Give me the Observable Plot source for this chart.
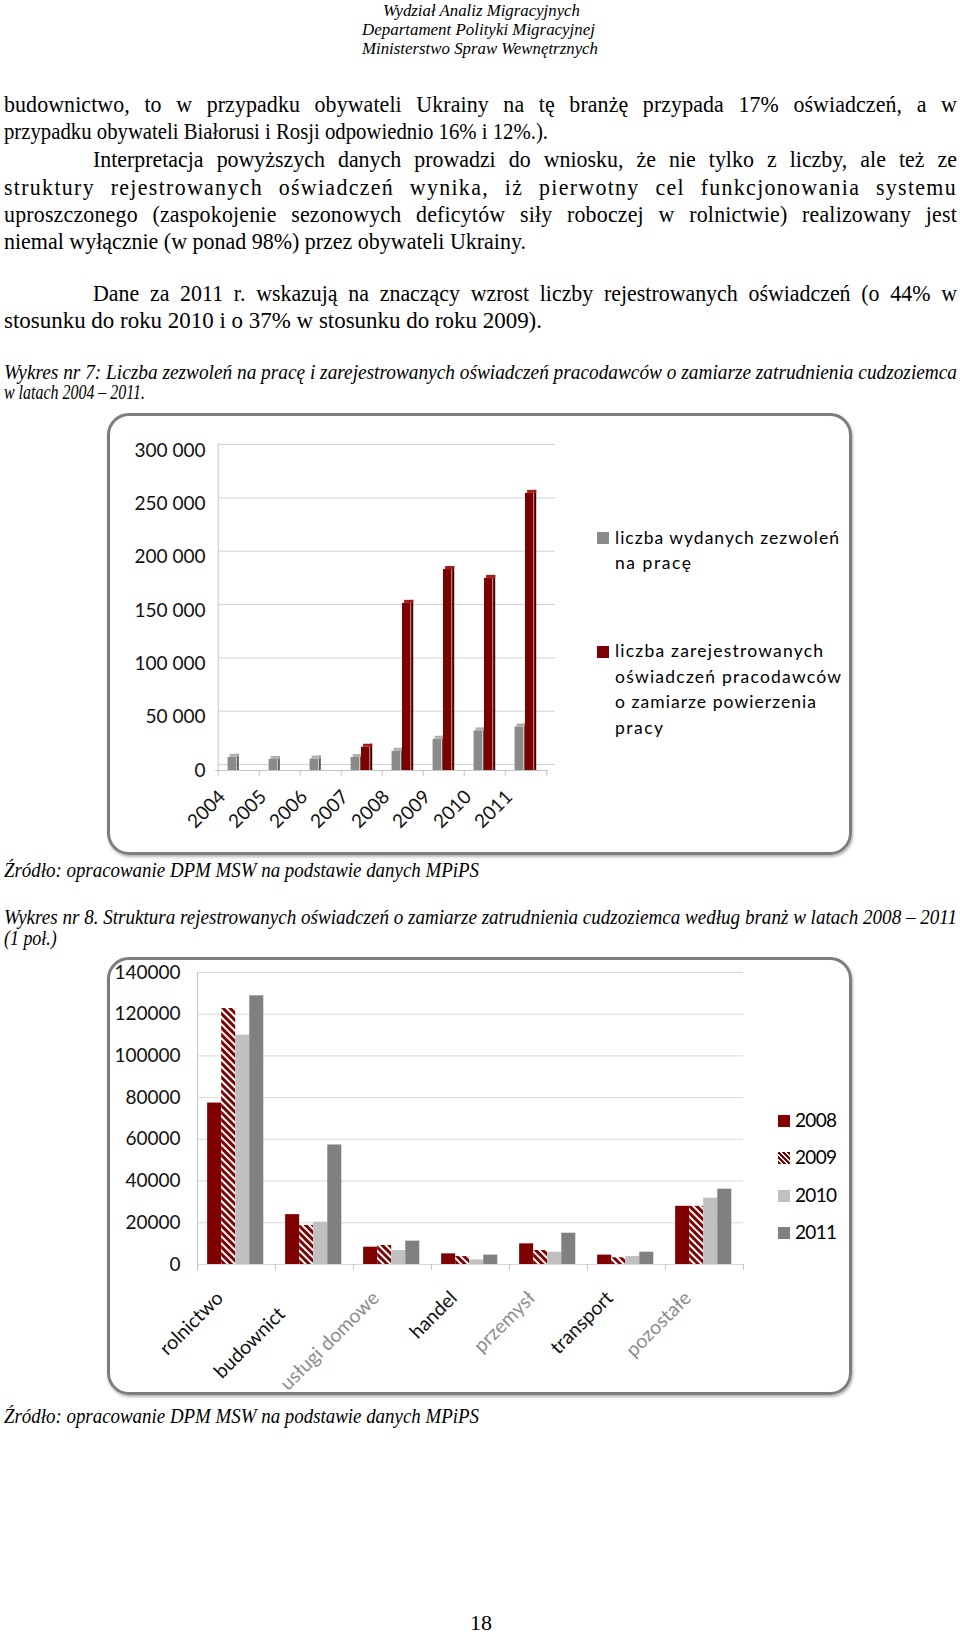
<!DOCTYPE html>
<html lang="pl"><head><meta charset="utf-8">
<script src="https://cdn.jsdelivr.net/npm/d3@7"></script>
<script src="https://cdn.jsdelivr.net/npm/@observablehq/plot@0.6"></script>
<style>
html,body{margin:0;padding:0;background:#fff;}
body{position:relative;width:960px;height:1634px;overflow:hidden;}
.ln{position:absolute;white-space:nowrap;transform-origin:0 0;color:#000;font-family:"Liberation Serif","Times New Roman",serif;}
.frame{position:absolute;box-sizing:border-box;border:3px solid #7d7d7d;border-radius:22px;box-shadow:1px 2px 3px rgba(0,0,0,.3);pointer-events:none;}
.lg{position:absolute;font-family:Lato,"DejaVu Sans",sans-serif;white-space:nowrap;color:#000;line-height:20px;}
.sw{position:absolute;width:12px;height:12px;}
</style></head>
<body>
<script>
// ---------------- DATA ----------------
// Chart 1 (Wykres nr 7)
const years1 = ["2004","2005","2006","2007","2008","2009","2010","2011"];
const permits1 = [12400,10300,10800,12200,18000,29300,37100,40800];
const declarations1 = [null,null,null,21800,156700,188400,180100,259800];
const yTicks1 = [0,50000,100000,150000,200000,250000,300000];
const legend1Permits = ["liczba wydanych zezwoleń","na pracę"];
const legend1Decl = ["liczba zarejestrowanych","oświadczeń pracodawców","o zamiarze powierzenia","pracy"];

// Chart 2 (Wykres nr 8)
const sectors2 = ["rolnictwo","budownictwo","usługi domowe","handel","przemysł","transport","pozostałe"];
const sectorLabels2 = ["rolnictwo","budownict\u2007\u2007","usługi domowe","handel","przemysł","transport","pozostałe"];
const fadedLabels2 = ["usługi domowe","przemysł","pozostałe"];
const years2 = ["2008","2009","2010","2011"];
const v2008 = [77400,23900,8300,5100,9900,4500,27900];
const v2009 = [122700,18700,9100,3800,6700,3200,27900];
const v2010 = [110000,20300,6700,2200,5900,3800,31800];
const v2011 = [128800,57300,11200,4500,15000,5900,36100];
const values2 = [v2008, v2009, v2010, v2011];
const yTicks2 = [0,20000,40000,60000,80000,100000,120000,140000];

// Page texts
const headerLines = ["Wydział Analiz Migracyjnych","Departament Polityki Migracyjnej","Ministerstwo Spraw Wewnętrznych"];
const bodyLines = [
 "budownictwo, to w przypadku obywateli Ukrainy na tę branżę przypada 17% oświadczeń, a w",
 "przypadku obywateli Białorusi i Rosji odpowiednio 16% i 12%.).",
 "Interpretacja powyższych danych prowadzi do wniosku, że nie tylko z liczby, ale też ze",
 "struktury rejestrowanych oświadczeń wynika, iż pierwotny cel funkcjonowania systemu",
 "uproszczonego (zaspokojenie sezonowych deficytów siły roboczej w rolnictwie) realizowany jest",
 "niemal wyłącznie (w ponad 98%) przez obywateli Ukrainy.",
 "Dane za 2011 r. wskazują na znaczący wzrost liczby rejestrowanych oświadczeń (o 44% w",
 "stosunku do roku 2010 i o 37% w stosunku do roku 2009)."
];
const caption1 = ["Wykres nr 7: Liczba zezwoleń na pracę i  zarejestrowanych oświadczeń pracodawców o zamiarze zatrudnienia cudzoziemca","w latach 2004 – 2011."];
const caption2 = ["Wykres nr 8. Struktura rejestrowanych oświadczeń o zamiarze zatrudnienia cudzoziemca według branż w latach 2008 – 2011","(1 poł.)"];
const sourceText = "Źródło: opracowanie DPM MSW na podstawie danych MPiPS";
const pageNumber = "18";

// ---------------- PAGE TEXT LAYOUT ----------------
const B = document.body;
const lines = [
 {t: headerLines[0], x:383, x2:580, y:10.5, size:17, it:true, fit:true},
 {t: headerLines[1], x:362, x2:595, y:30, size:17, it:true, fit:true},
 {t: headerLines[2], x:362, x2:598, y:49, size:17, it:true, fit:true},
 {t: bodyLines[0], x:4, x2:957, y:105, size:23, grp:"body", j:true},
 {t: bodyLines[1], x:4, x2:548, y:132, size:23, grp:"body", fit:true, ref:true},
 {t: bodyLines[2], x:93, x2:957, y:160, size:23, grp:"body", j:true},
 {t: bodyLines[3], x:4, x2:957, y:188, size:23, grp:"body", j:true},
 {t: bodyLines[4], x:4, x2:957, y:215, size:23, grp:"body", j:true},
 {t: bodyLines[5], x:4, x2:526, y:242, size:23, grp:"body", fit:true, ref:true},
 {t: bodyLines[6], x:93, x2:957, y:294, size:23, grp:"body", j:true},
 {t: bodyLines[7], x:4, x2:542, y:321, size:23, grp:"body", fit:true, ref:true},
 {t: caption1[0], x:4, x2:957, y:372, size:20, it:true, fit:true},
 {t: caption1[1], x:4, x2:145, y:392, size:20, it:true, grp:"cap", fit:true, ref:true},
 {t: sourceText, x:4, x2:479, y:870, size:20, it:true, grp:"cap", fit:true, ref:true},
 {t: caption2[0], x:4, x2:957, y:917, size:20, it:true, fit:true},
 {t: caption2[1], x:4, x2:31, y:938, size:20, it:true, grp:"cap"},
 {t: sourceText, x:4, x2:479, y:1416, size:20, it:true, grp:"cap", fit:true, ref:true},
 {t: pageNumber, x:470, x2:492, y:1623, size:22, fit:true}
];
lines.forEach(l => {
  const el = document.createElement("div");
  el.className = "ln";
  el.textContent = l.t;
  el.style.fontSize = l.size + "px";
  el.style.lineHeight = l.size + "px";
  if (l.it) el.style.fontStyle = "italic";
  el.style.left = l.x + "px";
  el.style.top = (l.y - 0.52 * l.size) + "px";
  B.appendChild(el);
  l.el = el;
  l.nat = el.getBoundingClientRect().width;
});
const grpScale = {};
["body", "cap"].forEach(g => {
  grpScale[g] = d3.mean(lines.filter(l => l.grp === g && l.ref), l => (l.x2 - l.x) / l.nat);
});
lines.forEach(l => {
  const target = l.x2 - l.x;
  if (l.j) {
    const s = grpScale[l.grp];
    const nSp = (l.t.match(/ /g) || []).length;
    const nCh = l.t.length;
    const extra = target - l.nat * s;
    const wordExtra = Math.min(Math.max(extra, 0), 9 * nSp);
    const ls = Math.max(0, extra - wordExtra) / (nCh * s);
    l.el.style.letterSpacing = ls + "px";
    l.el.style.whiteSpace = "normal";
    l.el.style.width = (target / s) + "px";
    l.el.style.textAlign = "justify";
    l.el.style.textAlignLast = "justify";
    l.el.style.transform = `scaleX(${s})`;
  } else if (l.fit) {
    l.el.style.transform = `scaleX(${target / l.nat})`;
  } else {
    l.el.style.transform = `scaleX(${grpScale[l.grp]})`;
  }
});

// ---------------- CHART 1 ----------------
const W = 960;
const c1 = {top: 414, height: 441, ml: 215, mr: 412, mt: 36, mb: 85};
const step1 = (W - c1.ml - c1.mr) / years1.length;
const ins1 = (a, b) => ({insetLeft: a * step1, insetRight: (1 - b) * step1});
const permRows = years1.map((year, i) => ({year, value: permits1[i]}));
const declRows = years1.map((year, i) => ({year, value: declarations1[i]})).filter(d => d.value != null);
const fmt1 = d => d3.format(",")(d).replace(/,/g, "\u00a0");
function bar3d(rows, a, b, front, side, top) {
  return [
    Plot.barY(rows, {x: "year", y: "value", fill: front, ...ins1(a, b)}),
    Plot.barY(rows, {x: "year", y: "value", fill: side, ...ins1(b, b + 0.065), insetTop: -3}),
    Plot.barY(rows, {x: "year", y1: "value", y2: "value", fill: top, ...ins1(a + 0.05, b + 0.065), insetTop: -3})
  ];
}
const plot1 = Plot.plot({
  width: W, height: c1.height,
  marginLeft: c1.ml, marginRight: c1.mr, marginTop: c1.mt, marginBottom: c1.mb,
  x: {type: "band", domain: years1, padding: 0, axis: null},
  y: {domain: [0, 300000], axis: null},
  style: {background: "transparent", fontFamily: "Lato, sans-serif", overflow: "visible"},
  marks: [
    Plot.ruleY(yTicks1, {y: d => d, stroke: "#d2d2d2", dy: -6, insetLeft: 3, insetRight: -7}),
    Plot.ruleY([0], {y: d => d, stroke: "#c4c4c4"}),
    Plot.ruleX([years1[0]], {x: d => d, dx: -step1 / 2, stroke: "#c4c4c4", insetTop: -7}),
    Plot.ruleX(years1, {x: d => d, dx: -step1 / 2, y1: () => 0, y2: () => 0, insetBottom: -6, stroke: "#c4c4c4"}),
    Plot.ruleX([years1[years1.length - 1]], {x: d => d, dx: step1 / 2, y1: () => 0, y2: () => 0, insetBottom: -6, stroke: "#c4c4c4"}),
    ...bar3d(permRows, 0.23, 0.45, "#8a8a8a", "#5c5c5c", "#b0b0b0"),
    ...bar3d(declRows, 0.48, 0.70, "#7d0000", "#4a0000", "#a31a1a"),
    Plot.text(yTicks1, {y: d => d, text: fmt1, frameAnchor: "left", textAnchor: "end", dx: -10, fontSize: 19, fill: "#111"}),
    Plot.text(years1, {x: d => d, y: () => 0, text: d => d, rotate: -45, textAnchor: "end", lineAnchor: "top", dx: -22, dy: 18, fontSize: 19, fill: "#111"})
  ]
});
plot1.style.position = "absolute";
plot1.style.left = "0px";
plot1.style.top = c1.top + "px";
B.appendChild(plot1);

// ---------------- CHART 2 ----------------
const c2 = {top: 957, height: 438, ml: 197, mr: 217, mt: 15, mb: 131};
const step2 = (W - c2.ml - c2.mr) / sectors2.length;
const rows2 = years2.map((yr, k) => sectors2.map((s, i) => ({sector: s, year: yr, value: values2[k][i]})));
const fills2 = ["#7f0000", "url(#hatch2009)", "#c0c0c0", "#808080"];
const bw2 = 0.18, b02 = 0.13;
const labelRows2 = sectors2.map((s, i) => ({s, label: sectorLabels2[i]}));
const plot2 = Plot.plot({
  width: W, height: c2.height,
  marginLeft: c2.ml, marginRight: c2.mr, marginTop: c2.mt, marginBottom: c2.mb,
  x: {type: "band", domain: sectors2, padding: 0, axis: null},
  y: {domain: [0, 140000], axis: null},
  style: {background: "transparent", fontFamily: "Lato, sans-serif", overflow: "visible"},
  marks: [
    Plot.ruleY(yTicks2, {y: d => d, stroke: "#d9d9d9"}),
    Plot.ruleX([sectors2[0]], {x: d => d, dx: -step2 / 2, stroke: "#c4c4c4"}),
    Plot.ruleX(sectors2, {x: d => d, dx: -step2 / 2, y1: () => 0, y2: () => 0, insetBottom: -6, stroke: "#c4c4c4"}),
    Plot.ruleX([sectors2[sectors2.length - 1]], {x: d => d, dx: step2 / 2, y1: () => 0, y2: () => 0, insetBottom: -6, stroke: "#c4c4c4"}),
    ...rows2.map((rows, k) => Plot.barY(rows, {
      x: "sector", y: "value", fill: fills2[k],
      insetLeft: (b02 + bw2 * k) * step2, insetRight: (1 - b02 - bw2 * (k + 1)) * step2
    })),
    Plot.text(yTicks2, {y: d => d, text: d3.format("d"), frameAnchor: "left", textAnchor: "end", dx: -17, fontSize: 19, fill: "#111"}),
    Plot.text(labelRows2, {x: "s", y: () => 0, text: "label", rotate: -45, textAnchor: "end", lineAnchor: "top", dx: -22, dy: 25, fontSize: 19.5,
      fill: d => fadedLabels2.includes(d.s) ? "#8c8c8c" : "#111"})
  ]
});
// hatch pattern for 2009
const defs = d3.select(plot2).insert("defs", ":first-child");
const pat = defs.append("pattern").attr("id", "hatch2009").attr("patternUnits", "userSpaceOnUse")
  .attr("width", 5).attr("height", 5).attr("patternTransform", "rotate(-45)");
pat.append("rect").attr("width", 5).attr("height", 5).attr("fill", "#ffffff");
pat.append("rect").attr("width", 3).attr("height", 5).attr("fill", "#7f0000");
plot2.style.position = "absolute";
plot2.style.left = "0px";
plot2.style.top = c2.top + "px";
B.appendChild(plot2);

// ---------------- LEGENDS ----------------
function legendLine(t, x, y, size, target) {
  const el = document.createElement("div");
  el.className = "lg";
  el.textContent = t;
  el.style.fontSize = size + "px";
  el.style.left = x + "px";
  el.style.top = (y - 10.5) + "px";
  B.appendChild(el);
  if (target) {
    const w = el.getBoundingClientRect().width;
    el.style.letterSpacing = ((target - w) / Math.max(1, t.length - 1)) + "px";
  }
  return el;
}
function swatch(x, y, bg) {
  const el = document.createElement("div");
  el.className = "sw";
  el.style.left = x + "px";
  el.style.top = y + "px";
  el.style.background = bg;
  B.appendChild(el);
}
swatch(597, 532, "#8a8a8a");
swatch(597, 646, "#7d0000");
const leg1PermW = [224, 76];
const leg1DeclW = [208, 226, 201, 48];
legend1Permits.forEach((t, i) => legendLine(t, 615, 538 + i * 25.5, 17.5, leg1PermW[i]));
legend1Decl.forEach((t, i) => legendLine(t, 615, 651.5 + i * 25.5, 17.5, leg1DeclW[i]));

const leg2Fill = ["#7f0000", "repeating-linear-gradient(45deg,#7f0000 0 2.2px,#fff 2.2px 3.6px)", "#c0c0c0", "#808080"];
const leg2Y = [1115, 1152, 1190, 1227];
years2.forEach((yr, k) => {
  swatch(778, leg2Y[k], leg2Fill[k]);
  legendLine(yr, 795, leg2Y[k] + 5.5, 19, 42);
});

// ---------------- FRAMES ----------------
function frame(x, y, w, h) {
  const el = document.createElement("div");
  el.className = "frame";
  el.style.left = x + "px"; el.style.top = y + "px";
  el.style.width = w + "px"; el.style.height = h + "px";
  B.appendChild(el);
}
frame(107, 413, 745, 442);
frame(107, 957, 745, 438);
</script>
</body></html>
